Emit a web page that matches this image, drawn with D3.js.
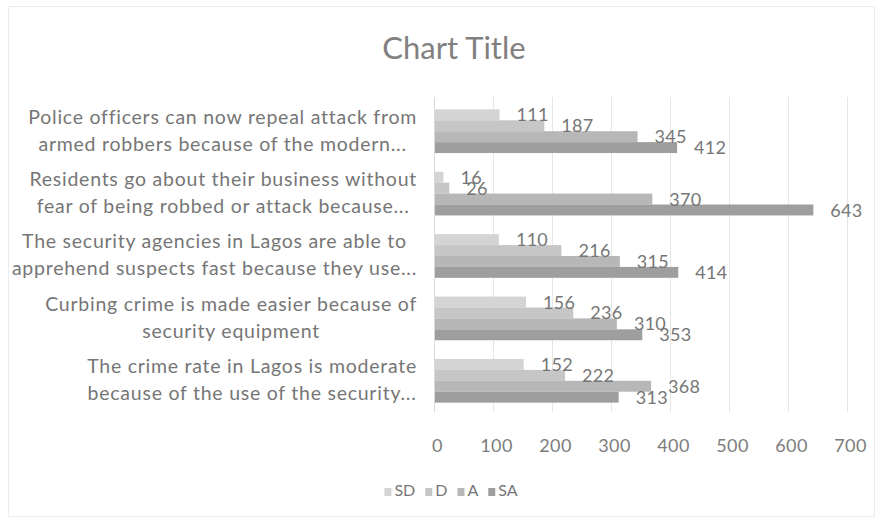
<!DOCTYPE html>
<html>
<head>
<meta charset="utf-8">
<script src="https://cdn.jsdelivr.net/npm/d3@7"></script>
<style>
  html, body { margin: 0; padding: 0; background: #fff; }
  svg { display: block; }
</style>
</head>
<body>
<svg id="chart" width="880" height="524"></svg>
<script>
// Survey statements (each label split into its two displayed lines)
const categories = [
  ["Police officers can now repeal attack from", "armed robbers because of the modern..."],
  ["Residents go about their business without", "fear of being robbed or attack because..."],
  ["The security agencies in Lagos are able to", "apprehend suspects fast because they use..."],
  ["Curbing crime is made easier because of", "security equipment"],
  ["The crime rate in Lagos is moderate", "because of the use of the security..."]
];
const seriesNames = ["SD", "D", "A", "SA"];
const SD = [111, 16, 110, 156, 152];
const D  = [187, 26, 216, 236, 222];
const A  = [345, 370, 315, 310, 368];
const SA = [412, 643, 414, 353, 313];
const xTicks = [0, 100, 200, 300, 400, 500, 600, 700];
const seriesColors = ["#d4d4d4", "#c6c6c6", "#b7b7b7", "#9e9e9e"];

const values = [SD, D, A, SA];
const FONT = "Lato, 'Open Sans', sans-serif";
const textGrey = "#767676";

const svg = d3.select("#chart");

// faint chart-area border
svg.append("rect")
  .attr("x", 8.5).attr("y", 6.5).attr("width", 866).attr("height", 510)
  .attr("fill", "none").attr("stroke", "#ececec");

// title
svg.append("text")
  .attr("x", 454).attr("y", 59)
  .attr("text-anchor", "middle")
  .attr("font-family", FONT).attr("font-size", 31)
  .attr("fill", "#808080")
  .text("Chart Title");

const x = d3.scaleLinear().domain([0, 700]).range([434, 847]);
const y0 = d3.scaleBand().domain(d3.range(categories.length)).range([100, 412]).paddingInner(0.3).paddingOuter(0.15);
const y1 = d3.scaleBand().domain(seriesNames).range([0, y0.bandwidth()]);

// vertical gridlines
svg.append("g").selectAll("line").data(xTicks.slice(1)).join("line")
  .attr("x1", d => x(d) + 0.5).attr("x2", d => x(d) + 0.5)
  .attr("y1", 97).attr("y2", 412)
  .attr("stroke", "#e6e6e6");

// x-axis tick labels
const xAxis = d3.axisBottom(x).tickValues(xTicks).tickSize(0).tickPadding(0);
const gx = svg.append("g").attr("transform", "translate(3,439)").call(xAxis);
gx.select(".domain").remove();
gx.selectAll("text")
  .attr("font-family", FONT).attr("font-size", 18)
  .attr("letter-spacing", 0.4)
  .attr("fill", "#7c7c7c").attr("dy", "0.71em");

// bars
const groups = svg.append("g").selectAll("g").data(categories).join("g")
  .attr("transform", (d, i) => `translate(0,${y0(i)})`);

groups.each(function (cat, i) {
  const g = d3.select(this);
  seriesNames.forEach((s, k) => {
    const v = values[k][i];
    g.append("rect")
      .attr("x", x(0)).attr("y", y1(s))
      .attr("width", x(v) - x(0)).attr("height", y1.bandwidth())
      .attr("fill", seriesColors[k]);
  });
  seriesNames.forEach((s, k) => {
    const v = values[k][i];
    g.append("text")
      .attr("x", x(v) + 17).attr("y", y1(s) + y1.bandwidth() / 2 + 2)
      .attr("dominant-baseline", "middle")
      .attr("font-family", FONT).attr("font-size", 18)
      .attr("letter-spacing", 0.3)
      .attr("fill", textGrey)
      .text(v);
  });
});

// vertical axis line at zero
svg.append("line")
  .attr("x1", x(0) + 0.5).attr("x2", x(0) + 0.5)
  .attr("y1", 97).attr("y2", 412)
  .attr("stroke", "#d9d9d9");

// category labels: two centred lines, block right-aligned against the axis
const catG = svg.append("g");
categories.forEach((lines, i) => {
  const cy = y0(i) + y0.bandwidth() / 2;
  const texts = lines.map((ln, j) => catG.append("text")
    .attr("y", cy + (j === 0 ? -12.5 : 14.5))
    .attr("dominant-baseline", "middle")
    .attr("text-anchor", "middle")
    .attr("font-family", FONT).attr("font-size", 19.5)
    .attr("letter-spacing", 0.75)
    .attr("fill", textGrey)
    .text(ln));
  const w = d3.max(texts, t => t.node().getComputedTextLength());
  texts.forEach(t => t.attr("x", 417 - w / 2));
});

// legend
const legG = svg.append("g").attr("transform", "translate(0,492)");
const items = seriesNames.map((s, k) => {
  const it = legG.append("g");
  it.append("rect").attr("x", 0).attr("y", -4).attr("width", 7).attr("height", 8).attr("fill", seriesColors[k]);
  const t = it.append("text").attr("x", 10).attr("y", 0)
    .attr("dominant-baseline", "middle")
    .attr("font-family", FONT).attr("font-size", 16)
    .attr("fill", textGrey).text(s);
  return { it, w: 10 + t.node().getComputedTextLength() };
});
const gap = 10;
const total = d3.sum(items, d => d.w) + gap * (items.length - 1);
let cx = 451 - total / 2;
items.forEach(d => { d.it.attr("transform", `translate(${cx},0)`); cx += d.w + gap; });
</script>
</body>
</html>
